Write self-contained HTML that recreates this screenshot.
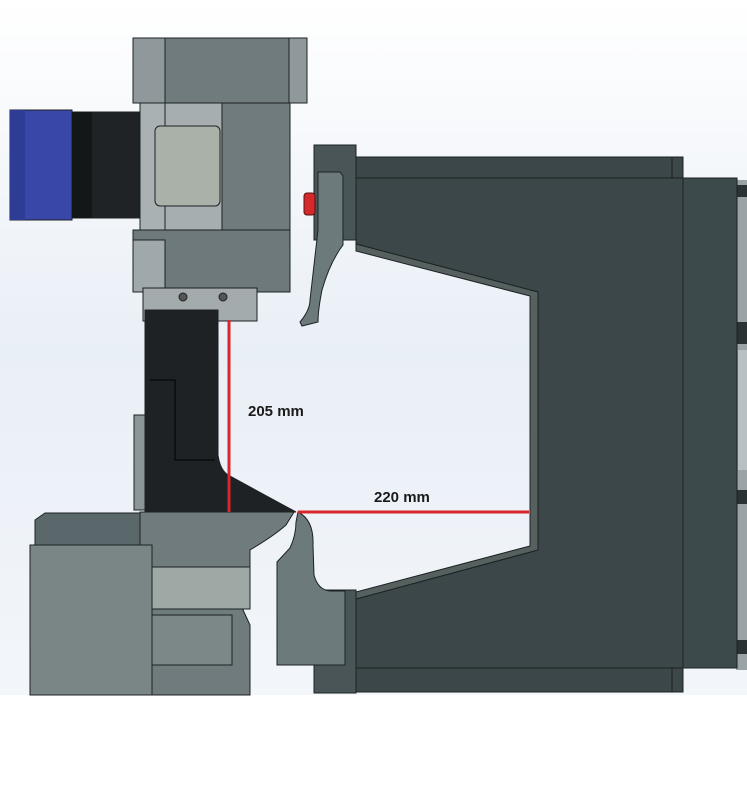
<!DOCTYPE html>
<html><head><style>
html,body{margin:0;padding:0;background:#fff}
svg{display:block}
text{font-family:"Liberation Sans",sans-serif;font-weight:bold;font-size:15px;fill:#1a1a1a}
</style></head><body>
<svg width="747" height="810" viewBox="0 0 747 810" xmlns="http://www.w3.org/2000/svg">
<defs>
<linearGradient id="bg" x1="0" y1="0" x2="0" y2="1">
<stop offset="0" stop-color="#ffffff"/><stop offset="0.5" stop-color="#e9eff6"/><stop offset="1" stop-color="#f3f6fa"/>
</linearGradient>
</defs>
<rect x="0" y="0" width="747" height="700" fill="url(#bg)"/>
<rect x="0" y="695" width="747" height="115" fill="#fff"/>
<g stroke="#1c2224" stroke-width="1">
<!-- right edge strip -->
<rect x="736" y="180" width="11" height="490" fill="#9aa3a6" stroke="none"/>
<rect x="737" y="185" width="10" height="12" fill="#2b3234" stroke="none"/>
<rect x="737" y="322" width="10" height="22" fill="#2b3234" stroke="none"/>
<rect x="737" y="490" width="10" height="14" fill="#2b3234" stroke="none"/>
<rect x="737" y="640" width="10" height="14" fill="#2b3234" stroke="none"/>
<rect x="738" y="350" width="9" height="120" fill="#b9c0c3" stroke="none"/>
<!-- right plate -->
<rect x="683" y="178" width="54" height="490" fill="#3d4a4c"/>
<!-- main frame -->
<path d="M356 157 H683 V692 H356 V599 L538 550 V292 L356 244 Z" fill="#3b4749"/>
<line x1="356" y1="178" x2="683" y2="178"/>
<line x1="356" y1="668" x2="683" y2="668"/>
<line x1="672" y1="157" x2="672" y2="178"/>
<line x1="672" y1="668" x2="672" y2="692"/>
<path d="M356 244 L538 292 V550 L356 599 V592 L530 546 V296 L356 251 Z" fill="#56615f"/>
<!-- left flange -->
<rect x="314" y="145" width="42" height="95" fill="#4a5557"/>
<rect x="314" y="590" width="42" height="103" fill="#4a5557"/>
<!-- top hook -->
<path d="M318 172 H340 L343 176 V245 Q330 262 322 290 Q318 310 318 322 L302 326 L300 322 Q310 310 310 300 L318 230 Z" fill="#6d7a7c"/>
<!-- red knob -->
<rect x="304" y="193" width="11" height="22" rx="3" fill="#d4282a" stroke="#5a1010"/>
<!-- bottom hook -->
<path d="M298 512 Q314 520 313 545 L314 575 Q318 590 330 591 H345 V665 H277 V562 L290 548 Q296 535 296 522 Z" fill="#6d7a7c"/>
<!-- left machine -->
<rect x="10" y="110" width="62" height="110" fill="#3847a8"/>
<rect x="10" y="110" width="15" height="110" fill="#2f3c95" stroke="none"/>
<rect x="72" y="112" width="93" height="106" fill="#1f2325"/>
<rect x="72" y="112" width="20" height="106" fill="#141718" stroke="none"/>
<rect x="133" y="38" width="174" height="65" fill="#8f999b"/>
<rect x="165" y="38" width="124" height="65" fill="#6f7b7d"/>
<rect x="140" y="103" width="25" height="128" fill="#a9b1b3"/>
<rect x="165" y="103" width="125" height="127" fill="#6f7b7d"/>
<rect x="165" y="103" width="57" height="127" fill="#a6aeb0"/>
<rect x="155" y="126" width="65" height="80" rx="5" fill="#a9b1a8"/>
<rect x="133" y="230" width="157" height="62" fill="#6d797b"/>
<rect x="133" y="240" width="32" height="52" fill="#9fa8aa"/>
<!-- clamp -->
<rect x="143" y="288" width="114" height="33" fill="#a3abad"/>
<circle cx="183" cy="297" r="4" fill="#555"/><circle cx="223" cy="297" r="4" fill="#555"/>
<!-- punch -->
<path d="M145 310 H218 V455 Q220 470 228 475 L296 512 H145 Z" fill="#1e2224"/>
<path d="M150 380 H175 V460 H215" fill="none" stroke="#000"/>
<rect x="134" y="415" width="11" height="95" fill="#8c9597"/>
<!-- die -->
<path d="M140 512 H294 L286 525 Q275 535 250 550 V600 L243 610 L250 625 V695 H152 V545 H140 Z" fill="#6f7b7c"/>
<rect x="152" y="567" width="98" height="42" fill="#9ea8a4"/>
<rect x="152" y="615" width="80" height="50" fill="#7c8888"/>
<path d="M35 520 L45 513 H140 V545 H35 Z" fill="#5b686b"/>
<rect x="30" y="545" width="122" height="150" fill="#7a8586"/>
</g>
<!-- dimension lines -->
<line x1="229" y1="320" x2="229" y2="512" stroke="#d8262b" stroke-width="3"/>
<line x1="298" y1="512" x2="529" y2="512" stroke="#d8262b" stroke-width="3"/>
<text x="248" y="416">205 mm</text>
<text x="374" y="502">220 mm</text>
</svg>
</body></html>
